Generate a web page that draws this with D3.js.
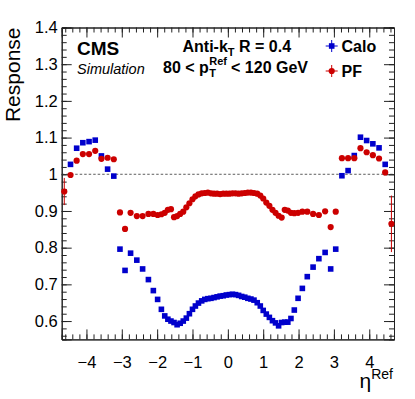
<!DOCTYPE html>
<meta charset="utf-8">
<style>
body { margin: 0; background: white; }
svg { font-family: "Liberation Sans", Arial, sans-serif; }
</style>
<body>
<div id="chart"></div>
<script src="https://d3js.org/d3.v7.min.js"></script>
<script>

// bin centres in eta
var etaCenters = [-4.627, -4.4505, -4.277, -4.102, -3.926, -3.7515, -3.5765, -3.4015, -3.2265, -3.0515,
  -2.9085, -2.7515, -2.575, -2.411, -2.247, -2.1075, -1.9865, -1.88, -1.785, -1.6965,
  -1.6095, -1.5225, -1.4355, -1.3485, -1.2615, -1.1745, -1.0875, -1.0005, -0.918, -0.831,
  -0.7395, -0.6525, -0.5655, -0.4785, -0.3915, -0.3045, -0.2175, -0.1305, -0.0435,
  0.0435, 0.1305, 0.2175, 0.3045, 0.3915, 0.4785, 0.5655, 0.6525, 0.7395, 0.831,
  0.918, 1.0005, 1.0875, 1.1745, 1.2615, 1.3485, 1.4355, 1.5225, 1.6095, 1.6965,
  1.785, 1.88, 1.9865, 2.1075, 2.247, 2.411, 2.575, 2.7515, 2.9085, 3.0515,
  3.2265, 3.4015, 3.5765, 3.7515, 3.926, 4.102, 4.277, 4.4505, 4.627];

var caloResp = [null, 1.027, 1.071, 1.086, 1.089, 1.093, 1.050, 1.014, 0.995, 0.796,
  0.738, 0.785, 0.766, 0.742, 0.713, 0.683, 0.659, 0.632, 0.614, 0.605,
  0.600, 0.596, 0.590, 0.594, 0.600, 0.608, 0.620, 0.632, 0.641, 0.649,
  0.655, 0.659, 0.661, 0.662, 0.664, 0.666, 0.668, 0.669, 0.671,
  0.672, 0.673, 0.672, 0.670, 0.667, 0.665, 0.662, 0.660, 0.657, 0.650,
  0.641, 0.629, 0.619, 0.610, 0.601, 0.595, 0.587, 0.596, 0.597, 0.597,
  0.607, 0.630, 0.662, 0.689, 0.721, 0.747, 0.770, 0.787, 0.742, 0.796,
  0.996, 1.010, 1.051, 1.101, 1.092, 1.083, 1.072, 1.027, null];

var pfResp = [0.953, 0.998, 1.037, 1.055, 1.055, 1.064, 1.042, 1.045, 1.041, 0.896,
  0.851, 0.895, 0.886, 0.886, 0.892, 0.892, 0.889, 0.891, 0.895, 0.903,
  0.905, 0.883, 0.886, 0.892, 0.898, 0.910, 0.921, 0.932, 0.940, 0.945,
  0.948, 0.949, 0.950, 0.948, 0.947, 0.947, 0.946, 0.947, 0.947,
  0.947, 0.948, 0.948, 0.947, 0.948, 0.949, 0.950, 0.950, 0.949, 0.947,
  0.942, 0.934, 0.923, 0.914, 0.903, 0.895, 0.887, 0.882, 0.903, 0.901,
  0.895, 0.894, 0.895, 0.898, 0.898, 0.892, 0.889, 0.899, 0.856, 0.898,
  1.044, 1.044, 1.044, 1.071, 1.060, 1.052, 1.043, 1.005, 0.865];

var pfErr = [0.037, 0, 0, 0, 0, 0, 0, 0, 0, 0, 0, 0, 0, 0, 0, 0, 0, 0, 0, 0,
  0, 0, 0, 0, 0, 0, 0, 0, 0, 0, 0, 0, 0, 0, 0, 0, 0, 0, 0,
  0, 0, 0, 0, 0, 0, 0, 0, 0, 0, 0, 0, 0, 0, 0, 0, 0, 0, 0, 0,
  0, 0, 0, 0, 0, 0, 0, 0, 0, 0, 0, 0, 0, 0, 0, 0, 0, 0, 0.077];

var xTicks = [-4, -3, -2, -1, 0, 1, 2, 3, 4];
var yTicks = [0.6, 0.7, 0.8, 0.9, 1.0, 1.1, 1.2, 1.3, 1.4];

var blue = "#0000cc", red = "#cc0000";

var margin = {top: 27.5, right: 21, bottom: 59.6, left: 61.7},
    W = 415, H = 399,
    width = W - margin.left - margin.right,
    height = H - margin.top - margin.bottom;

var svg = d3.select("#chart").append("svg")
    .attr("width", W).attr("height", H);

var g = svg.append("g")
    .attr("transform", "translate(" + margin.left + "," + margin.top + ")");

var x = d3.scaleLinear().domain([-4.7, 4.7]).range([0, width]);
var y = d3.scaleLinear().domain([0.55, 1.4]).range([height, 0]);

var minorX = d3.range(-46, 47, 2).map(function(d) { return d / 10; });
var minorY = d3.range(56, 141, 2).map(function(d) { return d / 100; });

function fmtY(d) { return d === 1 ? "1" : d3.format(".1f")(d); }
function fmtX(d) { return d < 0 ? "\u2212" + (-d) : "" + d; }

// bottom axis
g.append("g").attr("transform", "translate(0," + height + ")")
  .call(d3.axisBottom(x).tickValues(minorX).tickSize(-5).tickFormat(""));
g.append("g").attr("transform", "translate(0," + height + ")")
  .call(d3.axisBottom(x).tickValues(xTicks).tickSize(-10).tickPadding(17).tickFormat(fmtX));
// top axis
g.append("g").call(d3.axisTop(x).tickValues(minorX).tickSize(-5).tickFormat(""));
g.append("g").call(d3.axisTop(x).tickValues(xTicks).tickSize(-10).tickFormat(""));
// left axis
g.append("g").call(d3.axisLeft(y).tickValues(minorY).tickSize(-5).tickFormat(""));
g.append("g").call(d3.axisLeft(y).tickValues(yTicks).tickSize(-10).tickPadding(4).tickFormat(fmtY));
// right axis
g.append("g").attr("transform", "translate(" + width + ",0)")
  .call(d3.axisRight(y).tickValues(minorY).tickSize(-5).tickFormat(""));
g.append("g").attr("transform", "translate(" + width + ",0)")
  .call(d3.axisRight(y).tickValues(yTicks).tickSize(-10).tickFormat(""));

g.selectAll(".domain").attr("stroke", "#222");
g.selectAll(".tick line").attr("stroke", "#222");
g.selectAll(".tick text").attr("font-size", "16.5px").attr("fill", "#000")
  .attr("font-family", "'Liberation Sans', Arial, sans-serif");

// reference line at 1
g.append("line")
  .attr("x1", 0).attr("x2", width)
  .attr("y1", y(1)).attr("y2", y(1))
  .attr("stroke", "#333").attr("stroke-width", 0.8)
  .attr("stroke-dasharray", "2.5,2");

var pts = etaCenters.map(function(e, i) {
  return {eta: e, calo: caloResp[i], pf: pfResp[i], err: pfErr[i]};
});

// PF error bars
g.selectAll(".err").data(pts.filter(function(d) { return d.err > 0; }))
  .enter().append("line")
  .attr("x1", function(d) { return x(d.eta); })
  .attr("x2", function(d) { return x(d.eta); })
  .attr("y1", function(d) { return y(d.pf - d.err); })
  .attr("y2", function(d) { return y(d.pf + d.err); })
  .attr("stroke", red).attr("stroke-width", 1);

var ms = 5.6;
g.selectAll(".calo").data(pts.filter(function(d) { return d.calo !== null; }))
  .enter().append("rect")
  .attr("x", function(d) { return x(d.eta) - ms / 2; })
  .attr("y", function(d) { return y(d.calo) - ms / 2; })
  .attr("width", ms).attr("height", ms)
  .attr("fill", blue);

g.selectAll(".pf").data(pts)
  .enter().append("circle")
  .attr("cx", function(d) { return x(d.eta); })
  .attr("cy", function(d) { return y(d.pf); })
  .attr("r", 3.1)
  .attr("fill", red);

// axis titles
svg.append("text")
  .attr("transform", "translate(19.5," + margin.top + ") rotate(-90)")
  .attr("text-anchor", "end")
  .attr("font-size", "21px")
  .text("Response");

var xt = svg.append("text")
  .attr("x", 393).attr("y", 388)
  .attr("text-anchor", "end")
  .attr("font-size", "21px");
xt.append("tspan").text("\u03b7");
xt.append("tspan").attr("font-size", "14px").attr("dy", -9).text("Ref");

// CMS labels
svg.append("text").attr("x", 77).attr("y", 55)
  .attr("font-size", "19px").attr("font-weight", "bold").text("CMS");
svg.append("text").attr("x", 77).attr("y", 74)
  .attr("font-size", "14.5px").attr("font-style", "italic").text("Simulation");

// jet info
var t1 = svg.append("text").attr("x", 182.5).attr("y", 52)
  .attr("font-size", "16px").attr("font-weight", "bold");
t1.append("tspan").text("Anti-k");
t1.append("tspan").attr("font-size", "11px").attr("dy", 4).text("T");
t1.append("tspan").attr("dy", -4).text(" R = 0.4");

var x0 = 163, yb = 73;
var a = svg.append("text").attr("x", x0).attr("y", yb)
  .attr("font-size", "16px").attr("font-weight", "bold").text("80 < p");
var wa = a.node().getComputedTextLength();
var sup = svg.append("text").attr("x", x0 + wa + 0.5).attr("y", yb - 8)
  .attr("font-size", "11px").attr("font-weight", "bold").text("Ref");
svg.append("text").attr("x", x0 + wa + 0.5).attr("y", yb + 4)
  .attr("font-size", "11px").attr("font-weight", "bold").text("T");
var ws = sup.node().getComputedTextLength();
svg.append("text").attr("x", x0 + wa + ws + 4.5).attr("y", yb)
  .attr("font-size", "16px").attr("font-weight", "bold").text("< 120 GeV");

// legend
var legend = [{name: "Calo", color: blue, shape: "square", y: 46},
              {name: "PF", color: red, shape: "circle", y: 71}];
var lx = 331.7;
legend.forEach(function(l) {
  svg.append("line").attr("x1", lx - 6).attr("x2", lx + 6)
    .attr("y1", l.y).attr("y2", l.y).attr("stroke", l.color);
  svg.append("line").attr("x1", lx).attr("x2", lx)
    .attr("y1", l.y - 6).attr("y2", l.y + 6).attr("stroke", l.color);
  if (l.shape === "square") {
    svg.append("rect").attr("x", lx - ms / 2).attr("y", l.y - ms / 2)
      .attr("width", ms).attr("height", ms).attr("fill", l.color);
  } else {
    svg.append("circle").attr("cx", lx).attr("cy", l.y).attr("r", 3.1).attr("fill", l.color);
  }
  svg.append("text").attr("x", 341.5).attr("y", l.y + 6)
    .attr("font-size", "16px").attr("font-weight", "bold").text(l.name);
});

</script>
</body>
